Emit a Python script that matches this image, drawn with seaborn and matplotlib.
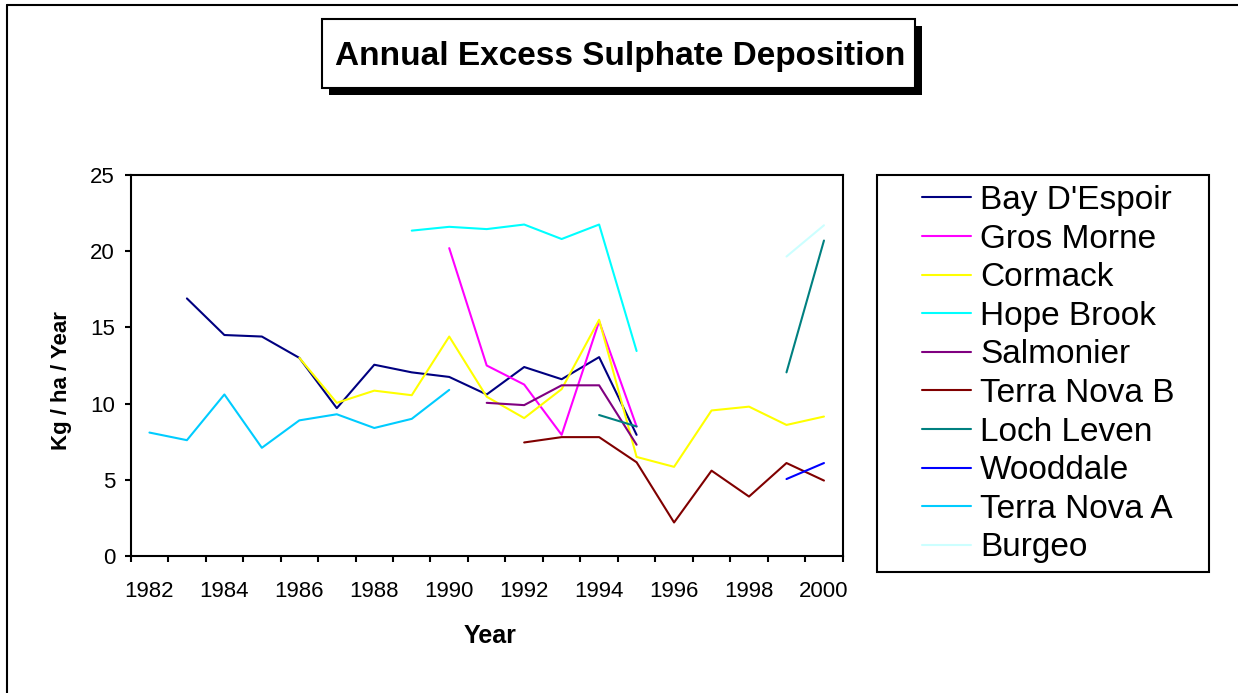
import numpy as np
import pandas as pd
import matplotlib
matplotlib.use('Agg')
import matplotlib.pyplot as plt
import seaborn as sns
from matplotlib.patches import Rectangle
from matplotlib.lines import Line2D

nan = np.nan

# Data, one value per year 1982..2000 (nan = no sample)
years = list(range(1982, 2001))
bay_despoir = [nan, 16.9, 14.5, 14.4, 13.0, 9.7, 12.55, 12.05, 11.75, 10.6, 12.4, 11.6, 13.05, 7.95,
               nan, nan, nan, nan, nan]
gros_morne = [nan] * 8 + [20.2, 12.5, 11.25, 7.95, 15.4, 8.5] + [nan] * 5
cormack = [nan] * 4 + [13.0, 10.05, 10.85, 10.55, 14.4, 10.45, 9.05, 10.95, 15.5, 6.5, 5.85, 9.55,
                       9.8, 8.6, 9.15]
hope_brook = [nan] * 7 + [21.35, 21.6, 21.45, 21.75, 20.8, 21.75, 13.45] + [nan] * 5
salmonier = [nan] * 9 + [10.05, 9.9, 11.2, 11.2, 7.3] + [nan] * 5
terra_nova_b = [nan] * 10 + [7.45, 7.8, 7.8, 6.15, 2.2, 5.6, 3.9, 6.1, 4.95]
loch_leven = [nan] * 12 + [9.25, 8.5, nan, nan, nan, 12.05, 20.7]
wooddale = [nan] * 17 + [5.05, 6.1]
terra_nova_a = [8.1, 7.6, 10.6, 7.1, 8.9, 9.3, 8.4, 9.0, 10.9] + [nan] * 10
burgeo = [nan] * 17 + [19.65, 21.7]

sites = ["Bay D'Espoir", 'Gros Morne', 'Cormack', 'Hope Brook', 'Salmonier',
         'Terra Nova B', 'Loch Leven', 'Wooddale', 'Terra Nova A', 'Burgeo']
series = [bay_despoir, gros_morne, cormack, hope_brook, salmonier,
          terra_nova_b, loch_leven, wooddale, terra_nova_a, burgeo]
colors = ['#000080', '#FF00FF', '#FFFF00', '#00FFFF', '#800080',
          '#800000', '#008080', '#0000FF', '#00CCFF', '#CCFFFF']

# long-form table, gaps split into separate segments so lines break
rows = []
seg = 0
for site, vals in zip(sites, series):
    prev_ok = False
    for yr, v in zip(years, vals):
        if np.isnan(v):
            prev_ok = False
            continue
        if not prev_ok:
            seg += 1
        rows.append({'year': yr, 'value': v, 'site': site, 'seg': seg})
        prev_ok = True
df = pd.DataFrame(rows)

sns.set_style('white')
plt.rcParams['font.family'] = ['Liberation Sans', 'DejaVu Sans']
plt.rcParams.update({'text.color': 'black', 'axes.labelcolor': 'black',
                     'xtick.color': 'black', 'ytick.color': 'black'})

W, H = 1238, 693
fig = plt.figure(figsize=(W / 100, H / 100), dpi=100)


def fx(px):
    return px / W


def fy(py):
    return 1 - py / H


ax = fig.add_axes([fx(130.7), fy(556), fx(842.7) - fx(130.7), fy(175) - fy(556)])

sns.lineplot(data=df, x='year', y='value', hue='site', units='seg', estimator=None,
             hue_order=sites, palette=dict(zip(sites, colors)), linewidth=1.5, ax=ax)
handles, labels = ax.get_legend_handles_labels()
ax.get_legend().remove()

ax.set_xlim(1981.5, 2000.5)
ax.set_ylim(0, 25)
ax.set_xticks(np.arange(1981.5, 2001, 1))
ax.set_xticklabels([])
ax.set_xticks(years[::2], minor=True)
ax.set_xticklabels([str(y) for y in years[::2]], minor=True)
ax.set_yticks(range(0, 26, 5))
ax.tick_params(axis='x', which='major', direction='out', length=4.3, width=1.5, color='black', bottom=True)
ax.tick_params(axis='x', which='minor', length=0, pad=18, labelsize=16, bottom=True)
ax.tick_params(axis='y', direction='out', length=4.3, width=1.5, color='black', pad=7,
               labelsize=16, left=True)
for s in ax.spines.values():
    s.set_color('black')
    s.set_linewidth(1.5)

ax.set_xlabel('')
ax.set_ylabel('')
fig.text(fx(490), fy(636), 'Year', fontsize=18, fontweight='bold', ha='center', va='center')
fig.text(fx(62), fy(381), 'Kg / ha / Year', rotation=90, fontsize=16, fontweight='bold',
         ha='center', va='center')

# legend with its own frame
fig.add_artist(Rectangle((fx(877), fy(572)), fx(1209) - fx(877), fy(175) - fy(572),
                         transform=fig.transFigure, facecolor='white', edgecolor='black', lw=1.5))
leg = fig.legend(handles, labels, loc='upper left', bbox_to_anchor=(fx(922), fy(185)),
                 frameon=False, fontsize=24, handlelength=1.47, handletextpad=0.27,
                 labelspacing=0.228, borderpad=0, borderaxespad=0)
for h in leg.get_lines():
    h.set_linewidth(1.5)

# title box with drop shadow
fig.add_artist(Rectangle((fx(329), fy(95)), fx(922) - fx(329), fy(26) - fy(95),
                         transform=fig.transFigure, facecolor='black', edgecolor='black', lw=0))
fig.add_artist(Rectangle((fx(322), fy(88)), fx(915) - fx(322), fy(19) - fy(88),
                         transform=fig.transFigure, facecolor='white', edgecolor='black', lw=1.5))
fig.text(fx(620), fy(57), 'Annual Excess Sulphate Deposition', fontsize=24, fontweight='bold',
         ha='center', va='center')

# outer chart border (top and left visible)
fig.add_artist(Line2D([fx(7), fx(W)], [fy(5), fy(5)], transform=fig.transFigure, color='black', lw=1.5))
fig.add_artist(Line2D([fx(7), fx(7)], [fy(5), fy(H)], transform=fig.transFigure, color='black', lw=1.5))

fig.savefig('out.png', dpi=100, facecolor='white')
plt.close(fig)
